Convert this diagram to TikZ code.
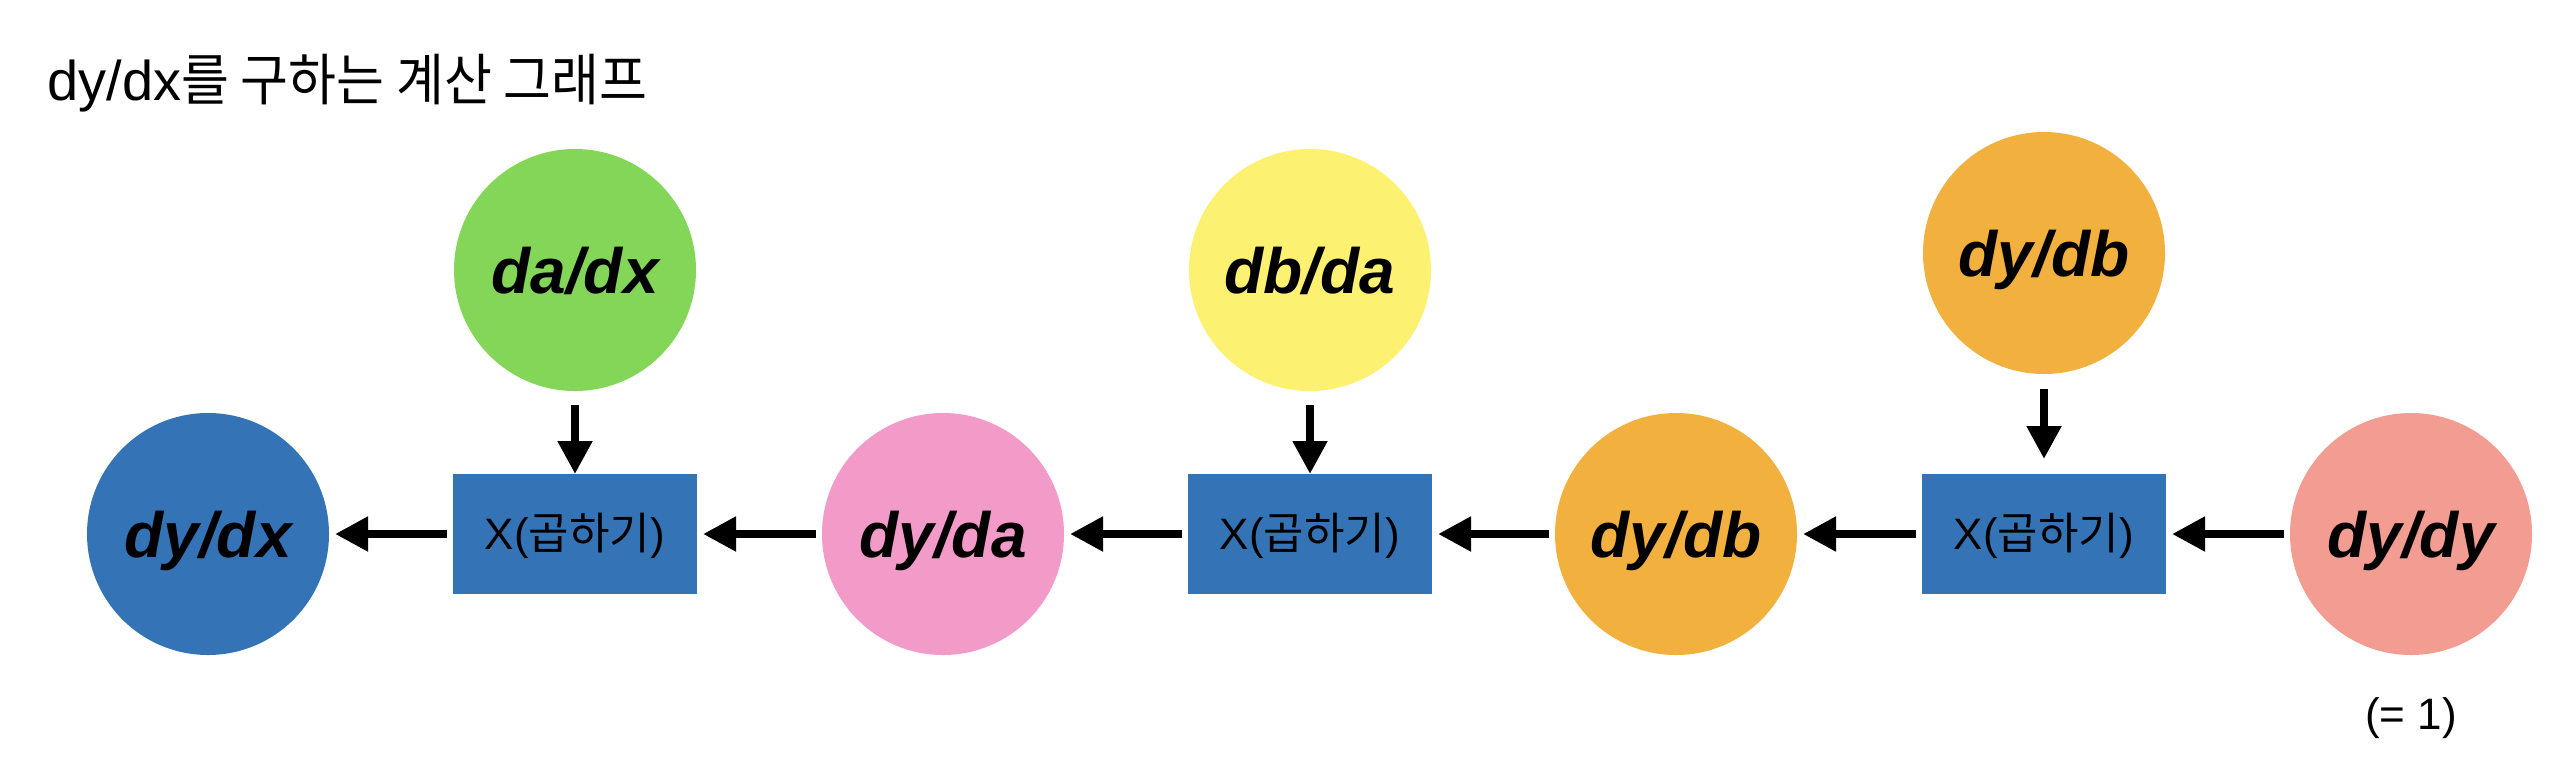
\documentclass[tikz,border=0pt]{standalone}
\usepackage{fontspec}
\setmainfont{Liberation Sans}
\newfontfamily\krfont{Noto Sans CJK KR}
\newfontfamily\krnarrow[FakeStretch=0.93]{Noto Sans CJK KR}
\usetikzlibrary{arrows.meta}
\definecolor{cblue}{RGB}{52,116,182}
\definecolor{cgreen}{RGB}{132,214,89}
\definecolor{cpink}{RGB}{242,154,200}
\definecolor{cyellow}{RGB}{253,241,114}
\definecolor{corange}{RGB}{242,177,62}
\definecolor{csalmon}{RGB}{242,156,146}
\begin{document}
\begin{tikzpicture}[x=0.5pt,y=-0.5pt,
  circ/.style={circle, minimum size=121pt, inner sep=0pt, outer sep=0pt,
    font=\fontsize{32}{38}\selectfont\bfseries\itshape, text height=23pt, text depth=0pt},
  opbox/.style={rectangle, fill=cblue, minimum width=122pt, minimum height=60pt,
    inner sep=0pt, outer sep=0pt, font=\fontsize{22}{26}\selectfont,
    text height=15.8pt, text depth=0pt},
  arr/.style={-{Triangle[length=16.5pt,width=16.5pt]}, line width=4pt,
    shorten <=3pt, shorten >=3pt}]
\useasboundingbox (0,0) rectangle (2564,778);
\node[anchor=base west, inner sep=0pt, font=\fontsize{28}{34}\selectfont] (title) at (47,100)
  {dy/dx{\krnarrow 를 구하는 계산 그래프}};
% bottom row
\node[circ, fill=cblue] (dydx) at (208,534) {dy/dx};
\node[opbox] (b1) at (575,534) {X({\krfont 곱하기})};
\node[circ, fill=cpink] (dyda) at (943,534) {dy/da};
\node[opbox] (b2) at (1310,534) {X({\krfont 곱하기})};
\node[circ, fill=corange] (dydb) at (1676,534) {dy/db};
\node[opbox] (b3) at (2044,534) {X({\krfont 곱하기})};
\node[circ, fill=csalmon] (dydy) at (2411,534) {dy/dy};
% top row
\node[circ, fill=cgreen] (dadx) at (575,270) {da/dx};
\node[circ, fill=cyellow] (dbda) at (1310,270) {db/da};
\node[circ, fill=corange] (dydbt) at (2044,253) {dy/db};
\node[font=\fontsize{22}{26}\selectfont, anchor=base] (eq1) at (2411,729) {(= 1)};
% arrows
\draw[arr] (b1) -- (dydx);
\draw[arr] (dyda) -- (b1);
\draw[arr] (b2) -- (dyda);
\draw[arr] (dydb) -- (b2);
\draw[arr] (b3) -- (dydb);
\draw[arr] (dydy) -- (b3);
\draw[arr, shorten <=7pt, shorten >=0pt] (dadx) -- (b1);
\draw[arr, shorten <=7pt, shorten >=0pt] (dbda) -- (b2);
\draw[arr, shorten <=7.5pt, shorten >=7.5pt] (dydbt) -- (b3);
\end{tikzpicture}
\end{document}
